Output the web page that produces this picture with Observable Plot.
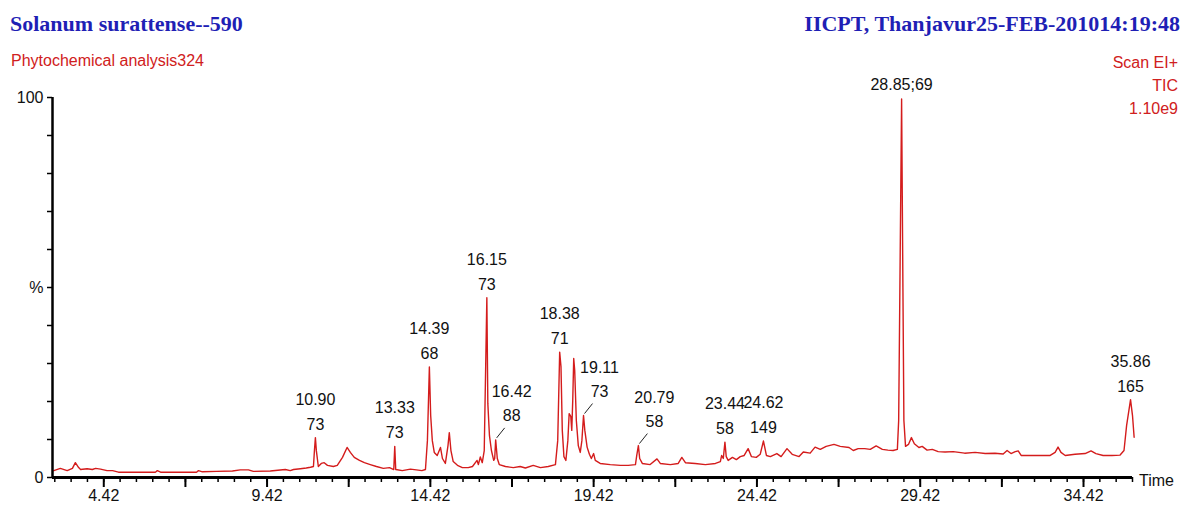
<!DOCTYPE html>
<html><head><meta charset="utf-8">
<script src="https://cdn.jsdelivr.net/npm/d3@7"></script>
<script src="https://cdn.jsdelivr.net/npm/@observablehq/plot@0.6"></script>
<style>
html,body{margin:0;padding:0;background:#fff;}
#chart{width:1184px;height:509px;position:relative;}
</style></head><body><div id="chart"></div>
<script>
// ---- content ----
const titleLeft = "Solanum surattense--590";
const titleRight = "IICPT, Thanjavur25-FEB-201014:19:48";
const subtitle = "Phytochemical analysis324";
const scanInfo = ["Scan EI+", "TIC", "1.10e9"];
const xAxisTitle = "Time";

// retention time (min) and relative intensity (%)
const times = [2.89,3.09,3.30,3.46,3.55,3.65,3.71,3.91,4.07,4.17,
4.32,4.52,4.69,4.87,6.00,6.06,6.16,7.26,7.32,7.44,
7.87,8.36,8.60,8.85,9.00,9.52,9.98,10.13,10.23,10.44,
10.62,10.75,10.84,10.87,10.90,10.93,10.99,11.08,11.17,11.27,
11.45,11.57,11.73,11.87,11.97,12.09,12.25,12.40,12.58,12.77,
12.98,13.17,13.30,13.33,13.36,13.56,13.81,13.99,14.16,14.27,
14.33,14.39,14.43,14.48,14.54,14.63,14.73,14.79,14.88,14.96,
15.00,15.05,15.12,15.25,15.40,15.58,15.71,15.85,15.89,15.95,
16.01,16.07,16.15,16.18,16.23,16.29,16.36,16.39,16.42,16.47,
16.53,16.72,16.96,17.17,17.33,17.57,17.79,18.03,18.25,18.32,
18.38,18.42,18.46,18.51,18.57,18.63,18.67,18.72,18.75,18.78,
18.81,18.84,18.89,18.95,19.01,19.06,19.11,19.15,19.22,19.29,
19.35,19.42,19.47,19.62,19.93,20.24,20.48,20.70,20.74,20.79,
20.83,20.91,21.15,21.36,21.46,21.77,22.01,22.12,22.23,22.53,
22.84,23.15,23.30,23.34,23.39,23.44,23.48,23.54,23.67,23.79,
23.91,24.03,24.15,24.25,24.40,24.52,24.62,24.71,24.83,25.03,
25.16,25.34,25.50,25.71,25.84,26.05,26.20,26.36,26.54,26.78,
26.97,27.24,27.37,27.52,27.72,27.89,28.07,28.26,28.43,28.59,
28.72,28.76,28.79,28.85,28.89,28.92,28.97,29.06,29.15,29.24,
29.38,29.48,29.63,29.79,29.97,30.18,30.43,30.78,31.10,31.41,
31.71,31.96,32.08,32.20,32.33,32.42,32.51,32.79,33.12,33.40,
33.55,33.64,33.73,33.86,34.16,34.47,34.65,34.80,35.02,35.29,
35.54,35.66,35.74,35.86,35.92,35.97];
const intensities = [1.8,2.4,1.8,2.4,3.9,2.6,2.1,2.3,2.1,2.4,
2.2,1.8,1.8,1.4,1.4,1.8,1.4,1.4,1.8,1.5,
1.6,1.7,2.0,2.0,1.6,1.7,2.1,1.8,2.1,2.3,
2.5,2.7,2.9,7.0,10.5,7.0,2.9,3.7,3.9,3.2,
2.9,3.2,5.3,7.9,6.6,5.3,4.5,3.9,3.4,2.9,
2.4,2.6,2.1,8.2,2.1,1.8,2.2,2.0,1.8,2.1,
9.7,29.1,16.3,9.7,6.6,5.8,7.9,5.0,3.7,8.4,
11.8,7.1,4.2,3.2,2.6,2.6,2.9,4.5,3.4,5.4,
3.9,7.1,47.3,19.5,11.0,7.1,4.5,5.0,9.9,5.0,
3.4,2.9,2.6,2.9,2.5,3.2,2.6,2.9,3.4,9.7,
33.0,29.2,12.4,5.5,4.5,9.7,16.8,16.1,12.4,20.3,
31.3,28.2,15.0,8.4,6.6,9.7,16.3,12.4,8.0,6.1,
5.0,6.3,4.5,3.7,3.4,3.2,3.2,3.4,5.8,8.4,
5.0,3.7,3.4,4.9,3.7,3.4,3.7,5.3,3.9,3.7,
3.4,3.7,4.2,5.8,5.0,9.3,5.5,4.5,5.3,4.7,
5.5,5.8,7.6,5.5,5.3,6.1,9.6,5.8,5.5,6.3,
5.5,7.6,6.1,5.5,6.7,6.4,8.0,7.4,8.2,8.7,
8.2,7.9,7.1,7.6,7.6,7.4,8.3,7.4,7.2,7.1,
7.4,15.0,43.0,99.6,50.0,15.0,8.2,8.7,10.5,8.9,
7.9,8.2,7.2,7.4,6.8,6.7,6.8,6.4,6.6,6.3,
6.4,6.2,7.1,6.3,6.8,7.0,5.8,5.8,5.8,5.8,
6.6,8.0,6.6,5.8,6.1,6.3,7.0,6.3,5.8,5.8,
5.9,7.1,13.7,20.5,16.3,10.6];

// peak annotations (retention time ; base ion)
const abovePeakTimes = ["10.90","13.33","14.39","16.15","18.38","23.44","24.62","35.86"];
const abovePeakIons  = ["73","73","68","73","71","58","149","165"];
const leaderPeakTimes = ["16.42","19.11","20.79"];
const leaderPeakIons  = ["88","73","58"];
const basePeakTime = "28.85";
const basePeakIon = "69";

// axes
const xLabelValues = [4.42, 9.42, 14.42, 19.42, 24.42, 29.42, 34.42];
const yTickValues = [0, 50, 100];
const yTickLabels = ["0", "%", "100"];

// ---- drawing ----
const data = times.map((t, i) => ({t, v: intensities[i]}));
const peakHeight = (label) => d3.max(data.filter(d => Math.abs(d.t - +label) <= 0.035), d => d.v);
const above = abovePeakTimes.map((s, i) => ({t: +s, v: peakHeight(s), time: s, ion: abovePeakIons[i]}));
const leader = leaderPeakTimes.map((s, i) => ({t: +s, v: peakHeight(s), time: s, ion: leaderPeakIons[i]}));
const base = [{t: +basePeakTime, v: peakHeight(basePeakTime), text: `${basePeakTime};${basePeakIon}`}];

const W = 1184, H = 509, mL = 52, mR = 52, mT = 97, mB = 32;
const xDomain = [2.85, 35.92];
const minorTicks = d3.range(0, 67).map(i => +(2.92 + i * 0.5).toFixed(2));
const majorTicks = minorTicks.filter((d, i) => i >= 3 && (i - 3) % 5 === 0);
const kx = (W - mL - mR) / (xDomain[1] - xDomain[0]);
const ky = (H - mT - mB) / 100;
const ink = "#111";
const labelFont = 16;

const plot = Plot.plot({
  width: W, height: H,
  marginLeft: mL, marginRight: mR, marginTop: mT, marginBottom: mB,
  x: {domain: xDomain, label: null},
  y: {domain: [0, 100], label: null},
  style: {fontFamily: "'Liberation Sans', Arial, sans-serif", fontSize: "16px", color: ink, background: "#fff", overflow: "visible"},
  marks: [
    Plot.axisY({ticks: d3.range(0, 101, 10), tickSize: 5, tickFormat: () => "", stroke: "#000", strokeWidth: 1.5, label: null}),
    Plot.axisY({ticks: yTickValues, tickSize: 0, tickPadding: 9, tickFormat: d => yTickLabels[yTickValues.indexOf(d)], label: null, fontSize: 16}),
    Plot.axisX({ticks: minorTicks, tickSize: 5, tickFormat: () => "", stroke: "#000", strokeWidth: 1.5, label: null}),
    Plot.axisX({ticks: majorTicks, tickSize: 10, tickFormat: () => "", stroke: "#000", strokeWidth: 2, label: null}),
    Plot.axisX({ticks: xLabelValues, tickSize: 0, tickPadding: 12, tickFormat: d => d.toFixed(2), label: null, fontSize: 16}),
    Plot.line(data, {x: "t", y: "v", stroke: "#d41c1c", strokeWidth: 1.4}),
    Plot.ruleX([xDomain[0]], {y1: 0, y2: 100, stroke: "#000", strokeWidth: 2.5}),
    Plot.ruleY([0], {stroke: "#000", strokeWidth: 3}),
    Plot.text(above, {x: "t", y: "v", text: "time", dy: -38, fontSize: labelFont, fill: ink}),
    Plot.text(above, {x: "t", y: "v", text: "ion", dy: -13, fontSize: labelFont, fill: ink}),
    Plot.text(leader, {x: "t", y: "v", text: "time", dx: 16, dy: -48, fontSize: labelFont, fill: ink}),
    Plot.text(leader, {x: "t", y: "v", text: "ion", dx: 16, dy: -24, fontSize: labelFont, fill: ink}),
    Plot.link(leader, {x1: d => d.t + 1 / kx, y1: d => d.v + 2 / ky, x2: d => d.t + 9 / kx, y2: d => d.v + 12 / ky, stroke: "#222", strokeWidth: 1}),
    Plot.text(base, {x: "t", y: "v", text: "text", dy: -14, fontSize: labelFont, fill: ink})
  ]
});

const svg = d3.select(plot);
const serif = "'Liberation Serif', 'Times New Roman', serif";
const sans = "'Liberation Sans', Arial, sans-serif";
svg.append("text").attr("x", 10).attr("y", 31).attr("text-anchor", "start").attr("font-family", serif).attr("font-weight", "bold")
  .attr("font-size", 22).attr("fill", "#1f1fb5").text(titleLeft);
svg.append("text").attr("x", 1180).attr("y", 31).attr("text-anchor", "end").attr("font-family", serif).attr("font-weight", "bold")
  .attr("font-size", 22).attr("fill", "#1f1fb5").text(titleRight);
svg.append("text").attr("x", 11).attr("y", 66).attr("text-anchor", "start").attr("font-family", sans)
  .attr("font-size", 16).attr("fill", "#d02020").text(subtitle);
scanInfo.forEach((s, i) => {
  svg.append("text").attr("x", 1178).attr("y", 68 + i * 23).attr("text-anchor", "end").attr("font-family", sans)
    .attr("font-size", 16).attr("fill", "#d02020").text(s);
});
svg.append("text").attr("x", 1139).attr("y", 486).attr("text-anchor", "start").attr("font-family", sans)
  .attr("font-size", 16).attr("fill", ink).text(xAxisTitle);

document.getElementById("chart").appendChild(plot);
</script>
</body></html>
